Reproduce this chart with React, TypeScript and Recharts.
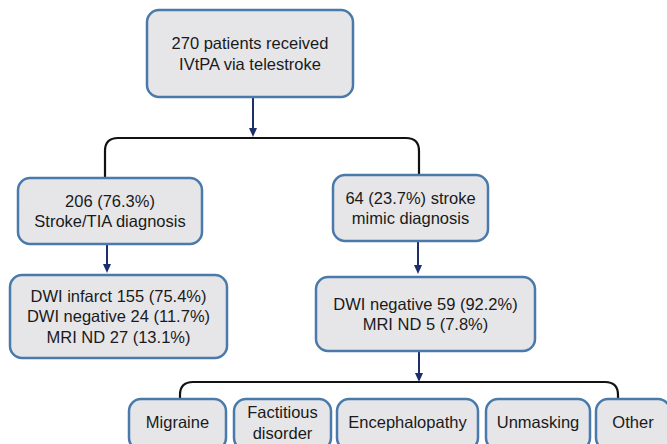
import { ScatterChart, Scatter, XAxis, YAxis } from 'recharts'

// flowchart text, one entry per box
const boxLabels: string[][] = [
  ['270 patients received', 'IVtPA via telestroke'],
  ['206 (76.3%)', 'Stroke/TIA diagnosis'],
  ['64 (23.7%) stroke', 'mimic diagnosis'],
  ['DWI infarct 155 (75.4%)', 'DWI negative 24 (11.7%)', 'MRI ND 27 (13.1%)'],
  ['DWI negative 59 (92.2%)', 'MRI ND 5 (7.8%)'],
]
const mimicTypes: string[] = ['Migraine', 'Factitious\ndisorder', 'Encephalopathy', 'Unmasking', 'Other']

// layout (chart units == pixels): [x1, y1, x2, y2]
const boxLayout = [
  [147, 10, 353, 97],
  [18, 178, 202, 244],
  [333, 175, 488, 241],
  [10, 275, 227, 358],
  [316, 277, 535, 351],
]
const mimicLayout = [
  [129, 226],
  [234, 331],
  [337, 478],
  [486, 590],
  [596, 670],
]
const mimicTop = 399
const mimicBottom = 450

// arrows: [x, yStart, yEnd]
const arrows = [
  [253, 97, 137],
  [107, 244, 273],
  [418, 241, 274],
  [419, 351, 382],
]
// brackets: [xLeft, xRight, yTop, yLeftEnd, yRightEnd]
const brackets = [
  [105, 419, 138, 179, 176],
  [180, 618, 382, 400, 400],
]

const FONT = '"Liberation Sans", Arial, sans-serif'

const boxData = [
  ...boxLabels.map((lines, i) => {
    const [x1, y1, x2, y2] = boxLayout[i]
    return { x: (x1 + x2) / 2, y: (y1 + y2) / 2, w: x2 - x1, h: y2 - y1, lines }
  }),
  ...mimicTypes.map((t, i) => {
    const [x1, x2] = mimicLayout[i]
    const lines = t.split('\n')
    return { x: (x1 + x2) / 2, y: (mimicTop + mimicBottom) / 2, w: x2 - x1, h: mimicBottom - mimicTop, lines, ty: lines.length > 1 ? 422.5 : 422 }
  }),
]
const arrowData = arrows.map(([x, y1, y2]) => ({ x, y: y1, len: y2 - y1 }))
const bracketData = brackets.map(([xl, xr, yt, yl, yr]) => ({ x: xl, y: yt, span: xr - xl, dl: yl - yt, dr: yr - yt }))

const Box = (props: any) => {
  const { cx, cy, payload } = props
  const { w, h, lines, ty } = payload
  const textCy = ty !== undefined ? cy + (ty - payload.y) : cy
  return (
    <g>
      <rect x={cx - w / 2} y={cy - h / 2} width={w} height={h} rx={12} ry={12}
        fill="#e6e6e9" stroke="#4a7aaa" strokeWidth={2.5} />
      <text x={cx} textAnchor="middle" fontFamily={FONT} fontSize={16.5} fill="#1a1a1a">
        {lines.map((l: string, i: number) => (
          <tspan key={i} x={cx} y={textCy + (i - (lines.length - 1) / 2) * 20.3} dy="0.36em">{l}</tspan>
        ))}
      </text>
    </g>
  )
}

const Arrow = (props: any) => {
  const { cx, cy, payload } = props
  const end = cy + payload.len
  return (
    <g>
      <line x1={cx} y1={cy} x2={cx} y2={end - 7} stroke="#1c2f6b" strokeWidth={2} />
      <path d={`M${cx - 4},${end - 9} L${cx + 4},${end - 9} L${cx},${end} Z`} fill="#1c2f6b" />
    </g>
  )
}

const Bracket = (props: any) => {
  const { cx, cy, payload } = props
  const r = 13
  const xr = cx + payload.span
  const d = `M${cx},${cy + payload.dl} L${cx},${cy + r} Q${cx},${cy} ${cx + r},${cy} L${xr - r},${cy} Q${xr},${cy} ${xr},${cy + r} L${xr},${cy + payload.dr}`
  return <path d={d} fill="none" stroke="#111" strokeWidth={2.2} />
}

export default function App() {
  return (
    <div style={{ position: 'absolute', left: 0, top: 0, width: 667, height: 444, background: '#fff' }}>
      <ScatterChart width={667} height={444} margin={{ top: 0, right: 0, bottom: 0, left: 0 }}>
        <XAxis type="number" dataKey="x" domain={[0, 667]} allowDataOverflow hide />
        <YAxis type="number" dataKey="y" domain={[0, 444]} allowDataOverflow reversed hide />
        <Scatter data={bracketData} shape={Bracket} isAnimationActive={false} />
        <Scatter data={arrowData} shape={Arrow} isAnimationActive={false} />
        <Scatter data={boxData} shape={Box} isAnimationActive={false} />
      </ScatterChart>
    </div>
  )
}
